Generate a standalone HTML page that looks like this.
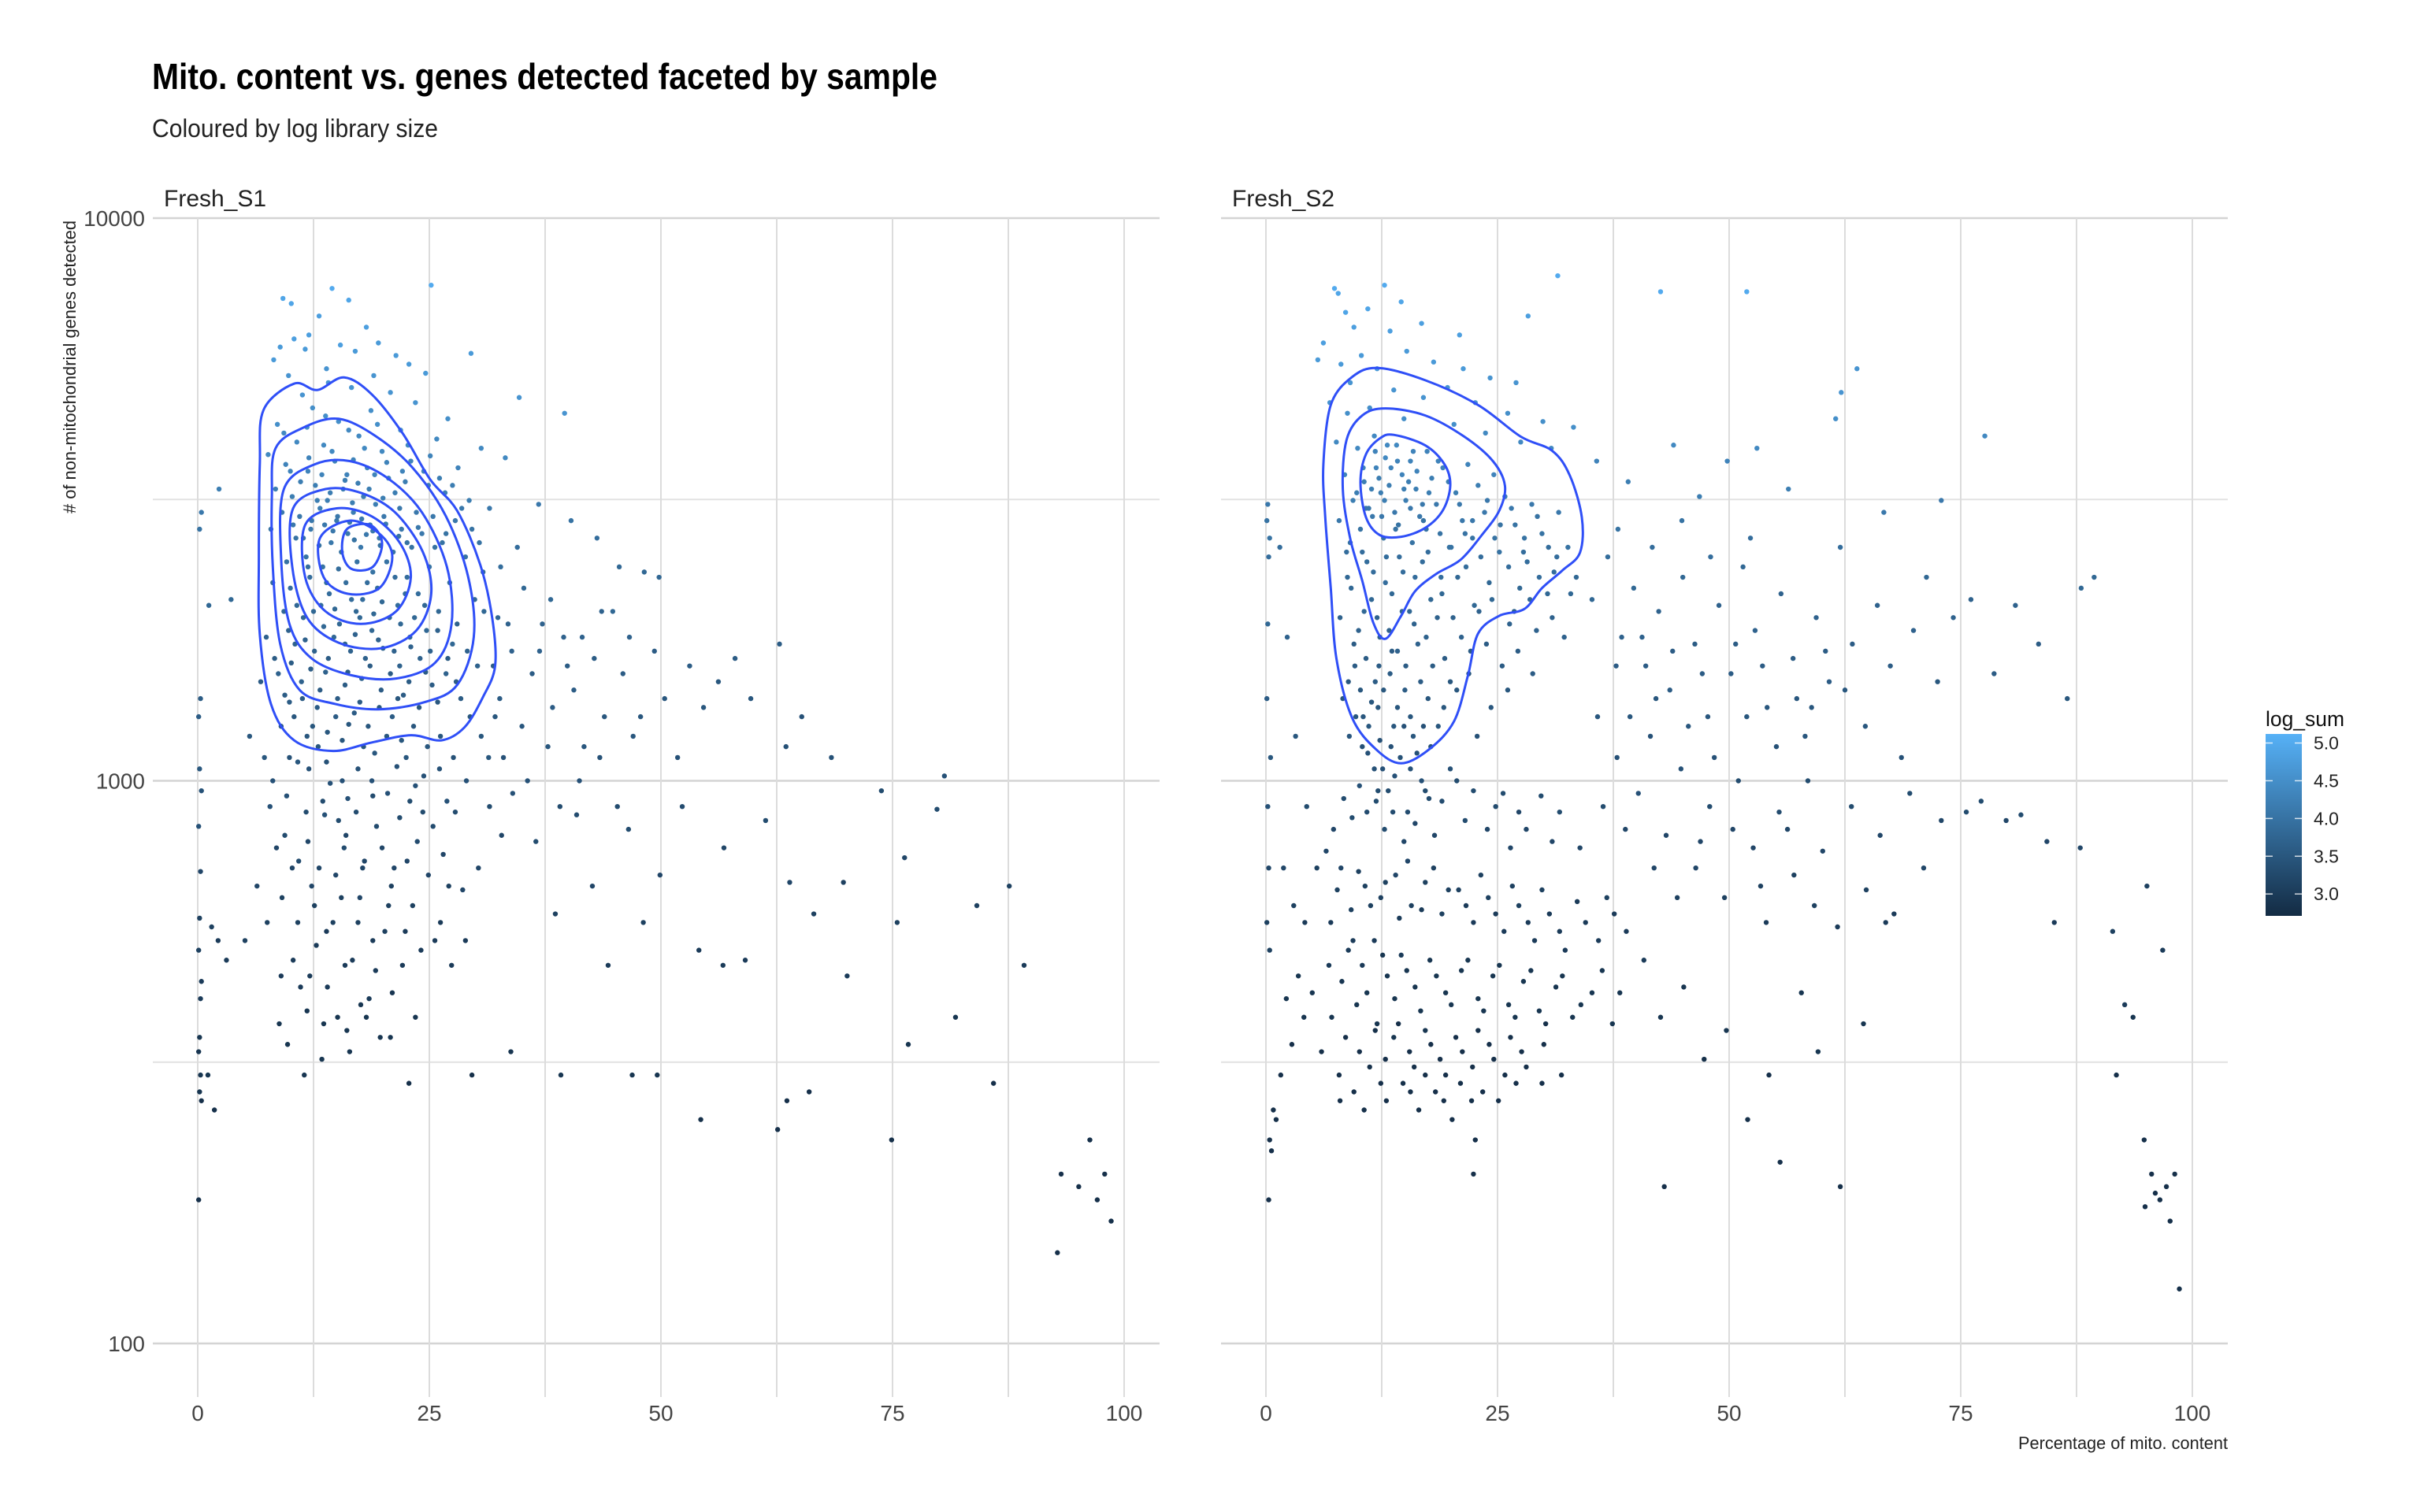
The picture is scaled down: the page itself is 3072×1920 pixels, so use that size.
<!DOCTYPE html>
<html><head><meta charset="utf-8">
<style>
html,body{margin:0;padding:0;background:#fff;}
body{width:3072px;height:1920px;overflow:hidden;font-family:"Liberation Sans",sans-serif;}
svg{display:block;}
</style></head>
<body>
<svg id="chart" width="3072" height="1920" viewBox="0 0 3072 1920" xmlns="http://www.w3.org/2000/svg" font-family="Liberation Sans, sans-serif">
<text x="193" y="113" font-size="46" font-weight="bold" fill="#000" textLength="997" lengthAdjust="spacingAndGlyphs">Mito. content vs. genes detected faceted by sample</text>
<text x="193" y="174" font-size="32" fill="#222" textLength="363" lengthAdjust="spacingAndGlyphs">Coloured by log library size</text>
<text transform="translate(96,280) rotate(-90)" text-anchor="end" font-size="22" fill="#222" textLength="372" lengthAdjust="spacingAndGlyphs"># of non-mitochondrial genes detected</text>
<text x="2828" y="1840" text-anchor="end" font-size="22" fill="#222" textLength="266" lengthAdjust="spacingAndGlyphs">Percentage of mito. content</text>
<g id="panels"></g>
<g id="legend"></g>
</svg>
<script>
// ---- data ----
const xTicks = [0, 25, 50, 75, 100];
const xMinor = [12.5, 37.5, 62.5, 87.5];
const yTicks = [100, 1000, 10000];
const yMinor = [316.2, 3162];
const facets = ["Fresh_S1", "Fresh_S2"];
const legendTicks = [3.0, 3.5, 4.0, 4.5, 5.0];
const colourLimits = [2.71, 5.12];

const pointsS1 = [
[9.2,7200,4.9],[10.1,7050,4.9],[14.5,7500,5.0],[16.3,7150,4.9],[25.2,7600,5.0],[13.1,6700,4.8],[18.2,6400,4.8],[12.0,6200,4.8],[10.4,6100,4.8],[8.9,5900,4.7],
[11.6,5850,4.7],[15.4,5950,4.8],[17.0,5800,4.7],[19.5,6000,4.7],[21.4,5700,4.7],[29.5,5750,4.7],[22.8,5500,4.7],[8.2,5600,4.7],[13.9,5400,4.6],[24.6,5300,4.7],
[19.0,5250,4.6],[34.7,4800,4.6],[39.6,4500,4.6],[14.1,5100,4.6],[9.8,5250,4.6],[16.6,5000,4.6],[20.8,4900,4.6],[11.3,4850,4.6],[23.5,4700,4.6],[27.0,4400,4.5],
[18.7,4550,4.5],[12.4,4600,4.5],[8.6,4300,4.5],[15.2,4350,4.5],[21.9,4200,4.5],[25.8,4050,4.4],[30.6,3900,4.4],[33.2,3750,4.4],[10.7,4000,4.4],[13.6,3950,4.4],
[17.4,4100,4.4],[19.9,3850,4.4],[23.0,3700,4.3],[28.1,3600,4.3],[7.6,3800,4.4],[9.5,3650,4.3],[11.9,3550,4.3],[14.8,3700,4.3],[16.1,3500,4.3],[18.3,3600,4.3],
[20.6,3450,4.3],[22.4,3400,4.2],[24.9,3350,4.2],[26.7,3250,4.2],[29.3,3150,4.2],[31.5,3050,4.1],[8.4,3300,4.2],[10.2,3200,4.2],[12.7,3350,4.2],[14.0,3150,4.2],
[15.7,3300,4.2],[17.9,3200,4.2],[19.2,3100,4.2],[21.3,3250,4.2],[23.6,3000,4.1],[25.4,2950,4.1],[27.8,2900,4.1],[9.1,3000,4.1],[11.0,2950,4.1],[13.2,3050,4.2],
[15.0,2900,4.1],[16.8,3000,4.2],[18.6,2850,4.1],[20.1,2950,4.1],[22.0,2800,4.1],[24.2,2750,4.1],[26.4,2650,4.0],[7.9,2800,4.0],[10.6,2700,4.0],[12.2,2800,4.1],
[14.4,2650,4.1],[16.2,2750,4.1],[17.6,2600,4.1],[19.6,2700,4.1],[21.1,2550,4.0],[23.1,2600,4.0],[28.9,2500,4.0],[30.8,2350,3.9],[9.6,2450,4.0],[11.7,2500,4.0],
[13.5,2400,4.0],[15.5,2550,4.0],[17.2,2450,4.0],[18.9,2350,4.0],[20.4,2450,4.0],[22.6,2300,3.9],[25.0,2400,4.0],[27.2,2250,3.9],[8.1,2250,3.9],[10.0,2200,3.9],
[12.1,2300,3.9],[14.2,2150,3.9],[16.0,2250,3.9],[17.8,2100,3.9],[19.4,2200,3.9],[21.6,2050,3.9],[23.8,2150,3.9],[26.0,2000,3.8],[29.9,2100,3.8],[32.4,1950,3.8],
[9.3,2000,3.8],[11.4,1950,3.8],[13.3,2050,3.9],[15.3,1900,3.8],[17.1,2000,3.8],[18.8,1850,3.8],[20.7,1950,3.8],[22.9,1800,3.8],[24.7,1850,3.8],[27.5,1750,3.8],
[7.4,1800,3.7],[10.5,1750,3.7],[12.6,1700,3.7],[14.7,1800,3.8],[16.5,1700,3.7],[18.1,1650,3.7],[20.0,1720,3.7],[21.8,1600,3.7],[24.0,1650,3.7],[26.8,1550,3.7],
[30.2,1600,3.7],[8.7,1550,3.7],[11.2,1500,3.7],[13.8,1560,3.7],[15.9,1480,3.6],[17.7,1520,3.7],[19.8,1450,3.6],[22.2,1420,3.6],[25.3,1480,3.6],[28.4,1400,3.6],
[6.8,1500,3.6],[9.9,1380,3.6],[12.9,1350,3.6],[14.9,1300,3.6],[16.9,1320,3.6],[18.4,1250,3.5],[21.0,1300,3.6],[23.3,1250,3.5],[26.2,1200,3.5],[9.0,1250,3.5],
[11.8,1200,3.5],[13.0,1150,3.5],[15.6,1180,3.5],[19.1,1120,3.5],[22.5,1100,3.5],[10.8,1080,3.5],[17.3,1050,3.4],[24.4,1020,3.4],[7.2,1100,3.5],[5.6,1200,3.5],
[3.6,2100,3.8],[1.2,2050,3.8],[2.3,3300,4.2],[0.4,3000,4.1],[0.2,2800,4.0],[0.3,1400,3.6],[0.1,1300,3.6],[0.2,1050,3.5],[0.4,960,3.4],[0.1,830,3.4],
[0.3,690,3.2],[0.2,570,3.1],[0.1,500,3.1],[0.4,440,3.0],[0.3,410,3.0],[0.2,350,2.9],[0.1,330,2.9],[0.3,300,2.9],[0.2,280,2.9],[1.1,300,2.9],
[1.8,260,2.8],[0.1,180,2.8],[0.4,270,2.8],[2.2,520,3.0],[3.1,480,3.0],[1.5,550,3.1],
[7.8,900,3.4],[9.4,800,3.3],[10.9,720,3.3],[12.3,650,3.2],[13.7,870,3.4],[14.6,560,3.1],[15.8,760,3.3],[16.7,480,3.0],[17.5,620,3.2],[18.5,410,3.0],
[19.3,830,3.3],[20.2,540,3.1],[21.2,700,3.2],[22.1,470,3.0],[23.2,600,3.1],[24.3,880,3.3],[25.6,520,3.0],[26.5,740,3.2],[27.4,470,3.0],[28.6,640,3.2],
[8.8,370,2.9],[9.7,340,2.9],[11.5,300,2.9],[13.4,320,2.9],[15.1,380,2.9],[16.4,330,2.9],[19.7,350,2.9],[22.8,290,2.8],[29.6,300,2.8],[33.8,330,2.9],
[11.1,430,3.0],[12.8,510,3.0],[14.3,990,3.4],[16.2,930,3.4],[18.0,720,3.2],[20.5,950,3.4],[23.7,780,3.3],[26.9,920,3.4],[6.4,650,3.2],[5.1,520,3.1],
[31.4,1100,3.5],[32.6,1400,3.6],[33.9,1700,3.7],[35.0,1250,3.5],[36.1,1550,3.6],[37.2,1900,3.7],[38.3,1350,3.6],[39.5,1800,3.7],[40.6,1450,3.6],[41.7,1150,3.5],
[42.8,1650,3.6],[43.9,1300,3.5],[44.8,2000,3.8],[45.9,1550,3.6],[47.0,1200,3.5],[48.2,2350,3.8],[49.3,1700,3.6],[50.4,1400,3.5],[51.8,1100,3.4],[53.1,1600,3.6],
[54.6,1350,3.5],[56.2,1500,3.5],[58.0,1650,3.6],[59.7,1400,3.5],[62.8,1750,3.6],[63.5,1150,3.4],[65.2,1300,3.4],[68.4,1100,3.4],[34.5,2600,3.9],[36.8,3100,4.1],
[40.3,2900,4.0],[43.1,2700,3.9],[45.5,2400,3.8],[49.8,2300,3.8],[34.0,950,3.4],[36.5,780,3.3],[38.6,580,3.1],[40.9,870,3.3],[42.6,650,3.2],[44.3,470,3.0],
[46.5,820,3.3],[48.1,560,3.1],[49.9,680,3.2],[52.3,900,3.3],[54.1,500,3.0],[56.8,760,3.2],[59.1,480,3.0],[61.3,850,3.3],[63.9,660,3.2],[66.5,580,3.1],
[69.7,660,3.1],[70.1,450,3.0],[73.8,960,3.3],[75.5,560,3.1],[76.3,730,3.2],[79.8,890,3.3],[80.6,1020,3.4],[84.1,600,3.1],[87.6,650,3.1],[89.2,470,3.0],
[46.9,300,2.9],[49.6,300,2.9],[54.3,250,2.8],[62.6,240,2.8],[63.6,270,2.8],[66.0,280,2.8],[74.9,230,2.8],[76.7,340,2.9],[81.8,380,2.9],[85.9,290,2.8],
[93.2,200,2.8],[96.3,230,2.8],[97.9,200,2.8],[95.1,190,2.8],[97.1,180,2.8],[98.6,165,2.8],[92.8,145,2.8],[56.7,470,3.0],[39.2,300,2.9],[23.5,380,2.9]
];
const coreS1 = [
[12.3,2900,4.1],[13.7,2850,4.1],[15.1,2950,4.1],[16.4,2880,4.1],[17.7,2920,4.1],[18.9,2780,4.1],[20.3,2860,4.1],[21.7,2720,4.0],[14.6,2780,4.1],[16.9,2680,4.0],
[18.2,2740,4.1],[19.7,2620,4.0],[13.1,2620,4.0],[11.4,2700,4.0],[10.3,2850,4.1],[22.6,2650,4.0],[23.8,2820,4.1],[12.9,3150,4.2],[14.3,3250,4.2],[16.7,3120,4.2],
[18.5,3300,4.2],[20.0,3180,4.2],[21.8,3050,4.1],[11.1,3400,4.2],[13.4,3500,4.3],[15.9,3420,4.2],[17.3,3380,4.2],[19.1,3500,4.3],[22.1,3550,4.3],[10.0,3550,4.3],
[12.0,3750,4.3],[14.5,3850,4.4],[16.8,3720,4.3],[18.0,3900,4.4],[20.4,3680,4.3],[24.4,3550,4.3],[26.1,3450,4.2],[9.3,4150,4.4],[11.8,4250,4.5],[13.8,4450,4.5],
[16.3,4200,4.4],[19.4,4300,4.5],[22.7,3950,4.4],[25.1,3780,4.3],[27.5,3350,4.2],[28.5,3050,4.1],[29.6,2800,4.0],[30.4,2650,4.0],[26.8,2750,4.0],[25.6,2600,4.0],
[11.9,2400,3.9],[13.9,2250,3.9],[15.2,2380,3.9],[16.6,2100,3.9],[18.3,2250,3.9],[19.9,2080,3.8],[21.3,2300,3.9],[22.4,2150,3.9],[24.5,2050,3.8],[10.7,2050,3.8],
[12.5,2000,3.8],[14.8,2020,3.8],[17.5,1950,3.8],[19.0,1980,3.8],[21.9,1900,3.8],[23.4,1950,3.8],[25.9,1850,3.7],[28.0,1900,3.7],[9.8,1850,3.7],[11.6,1780,3.7],
[13.6,1880,3.8],[15.9,1750,3.7],[17.0,1820,3.7],[19.5,1780,3.7],[21.2,1700,3.7],[23.0,1730,3.7],[25.1,1700,3.7],[27.0,1650,3.6],[29.1,1700,3.7],[8.3,1650,3.6],
[10.1,1620,3.6],[12.2,1580,3.6],[14.1,1650,3.6],[16.2,1560,3.6],[18.6,1600,3.6],[20.8,1550,3.6],[22.8,1500,3.6],[24.6,1560,3.6],[27.9,1500,3.6],[9.4,1420,3.6],
[11.3,1400,3.6],[13.2,1450,3.6],[15.1,1400,3.6],[17.5,1380,3.6],[19.6,1350,3.5],[21.6,1400,3.5],[23.9,1350,3.5],[25.9,1380,3.5],[29.4,1300,3.5],[10.4,1300,3.5],
[12.4,1250,3.5],[14.0,1220,3.5],[16.3,1260,3.5],[17.9,1150,3.5],[20.4,1200,3.5],[22.0,1180,3.5],[24.8,1150,3.5],[27.6,1100,3.4],[8.1,1000,3.4],[9.9,1100,3.4],
[12.0,1050,3.4],[13.9,1080,3.4],[15.6,1000,3.4],[18.8,1000,3.4],[21.5,1060,3.4],[23.5,980,3.4],[26.1,1050,3.4],[29.0,1000,3.4],[30.6,1200,3.5],[32.1,1300,3.5],
[9.6,940,3.4],[11.7,880,3.3],[13.5,920,3.3],[15.2,850,3.3],[17.1,880,3.3],[18.9,940,3.3],[21.8,860,3.3],[22.9,920,3.3],[25.4,830,3.3],[27.8,880,3.3],
[8.5,760,3.2],[10.2,700,3.2],[11.9,780,3.2],[13.1,700,3.2],[14.9,680,3.2],[16.0,800,3.2],[17.8,700,3.2],[19.9,760,3.2],[20.9,650,3.1],[22.6,720,3.2],
[24.9,680,3.2],[27.1,650,3.1],[30.3,700,3.2],[32.8,800,3.2],[9.1,620,3.1],[10.8,560,3.1],[12.6,600,3.1],[13.9,540,3.0],[15.5,620,3.1],[17.3,560,3.1],
[18.9,520,3.0],[20.6,600,3.1],[22.4,540,3.0],[24.1,500,3.0],[26.2,560,3.0],[28.9,520,3.0],[10.3,480,3.0],[12.1,450,3.0],[14.0,430,3.0],[15.9,470,3.0],
[17.6,400,2.9],[19.2,460,3.0],[21.0,420,2.9],[11.8,390,2.9],[13.6,370,2.9],[16.1,360,2.9],[18.2,380,2.9],[20.8,350,2.9],[9.0,450,3.0],[7.5,560,3.1],
[31.5,900,3.3],[33.0,1100,3.4],[35.6,1000,3.4],[37.8,1150,3.5],[39.1,900,3.3],[41.2,1000,3.4],[43.4,1100,3.4],[45.3,900,3.3],[47.8,1300,3.5],[31.9,1600,3.6],
[33.5,1900,3.7],[35.2,2200,3.8],[36.9,1700,3.7],[38.1,2100,3.8],[39.9,1600,3.6],[41.5,1800,3.7],[43.6,2000,3.7],[46.6,1800,3.7],[30.9,2000,3.8],[32.7,2400,3.9]
];

const pointsS2 = [
[7.4,7500,5.0],[7.8,7350,4.9],[12.8,7600,5.0],[14.6,7100,4.9],[8.6,6800,4.9],[11.0,6900,4.9],[9.5,6400,4.8],[6.2,6000,4.8],[13.4,6300,4.8],[16.8,6500,4.8],
[20.9,6200,4.8],[28.3,6700,4.8],[31.5,7900,5.0],[42.6,7400,5.0],[51.9,7400,5.0],[5.6,5600,4.7],[8.1,5500,4.7],[10.3,5700,4.7],[12.0,5400,4.7],[15.2,5800,4.7],
[18.1,5550,4.7],[21.3,5400,4.7],[24.2,5200,4.6],[27.0,5100,4.6],[9.1,5100,4.6],[13.8,4950,4.6],[17.0,4800,4.6],[19.6,5000,4.6],[22.6,4700,4.6],[26.1,4500,4.5],
[29.9,4350,4.5],[33.2,4250,4.5],[6.9,4700,4.6],[8.8,4500,4.5],[11.2,4600,4.5],[14.9,4400,4.5],[20.3,4300,4.5],[23.7,4150,4.4],[27.5,4000,4.4],[30.8,3900,4.4],
[35.7,3700,4.3],[62.1,4900,4.6],[61.5,4400,4.5],[63.8,5400,4.6],[77.6,4100,4.4],[53.0,3900,4.4],[44.0,3950,4.4],[49.8,3700,4.3],
[7.6,4000,4.4],[9.9,3900,4.4],[11.7,4100,4.4],[12.9,3750,4.4],[14.1,3950,4.4],[15.6,3700,4.3],[17.4,3850,4.3],[19.1,3600,4.3],[21.8,3650,4.3],[24.6,3500,4.3],
[8.5,3500,4.3],[10.6,3400,4.2],[11.9,3600,4.3],[13.3,3350,4.2],[14.7,3500,4.3],[16.2,3300,4.2],[17.9,3450,4.2],[20.5,3250,4.2],[22.9,3350,4.2],[25.8,3200,4.2],
[28.7,3100,4.1],[31.6,3000,4.1],[9.4,3150,4.2],[11.1,3050,4.1],[12.4,3250,4.2],[13.9,3000,4.1],[15.1,3150,4.2],[16.6,2950,4.1],[18.4,3100,4.1],[21.2,2900,4.1],
[23.6,3000,4.1],[26.9,2850,4.0],[29.8,2750,4.0],[32.6,2600,4.0],[7.9,2900,4.1],[10.2,2800,4.0],[11.5,2950,4.1],[12.7,2700,4.0],[14.3,2850,4.0],[15.8,2650,4.0],
[17.3,2800,4.0],[19.8,2600,4.0],[22.3,2700,4.0],[25.2,2550,4.0],[28.2,2450,3.9],[31.1,2350,3.9],[8.7,2550,3.9],[10.9,2450,3.9],[13.0,2500,3.9],[14.8,2350,3.9],
[16.9,2450,3.9],[18.9,2300,3.9],[21.6,2400,3.9],[24.1,2250,3.8],[27.4,2200,3.8],[30.4,2150,3.8],[33.5,2300,3.8],[9.2,2200,3.8],[11.4,2100,3.8],[13.6,2150,3.8],
[15.5,2000,3.8],[17.8,2100,3.8],[20.2,1950,3.7],[23.0,2000,3.7],[26.3,1900,3.7],[29.2,1850,3.7],[8.0,1950,3.7],[10.0,1850,3.7],[12.3,1800,3.7],[14.2,1700,3.7],
[16.4,1750,3.7],[19.3,1650,3.6],[22.1,1700,3.6],[25.5,1600,3.6],[28.8,1550,3.6],[9.6,1600,3.6],[11.8,1500,3.6],[13.4,1550,3.6],[15.0,1450,3.6],[17.5,1400,3.5],
[20.6,1450,3.5],[24.3,1350,3.5],[8.3,1400,3.5],[10.5,1300,3.5],[12.1,1350,3.5],[13.8,1250,3.5],[15.9,1200,3.5],[18.6,1250,3.5],[22.8,1200,3.4],[9.0,1200,3.5],
[11.0,1120,3.4],[12.6,1050,3.4],[14.5,1100,3.4],[16.8,1000,3.4],[19.9,1050,3.4],[10.1,980,3.4],[11.9,920,3.3],[13.2,960,3.3],[15.3,880,3.3],[17.6,930,3.3],
[9.3,860,3.3],[12.8,820,3.3],[14.9,780,3.2],[18.2,800,3.2],[21.5,850,3.3],[24.8,900,3.3],[26.4,760,3.2],[28.1,820,3.2],[31.7,880,3.3],[33.9,760,3.2],
[6.5,750,3.2],[8.1,700,3.2],[10.7,650,3.1],[12.4,620,3.1],[14.0,680,3.2],[15.7,600,3.1],[17.2,660,3.1],[19.0,580,3.1],[20.8,640,3.1],[22.4,560,3.0],
[24.0,620,3.1],[25.7,540,3.0],[27.3,600,3.1],[29.0,520,3.0],[30.6,580,3.0],[32.3,500,3.0],[34.5,560,3.0],[36.8,620,3.1],[38.9,540,3.0],[7.0,560,3.0],
[8.9,500,3.0],[10.4,470,3.0],[11.7,520,3.0],[13.1,450,2.9],[14.6,490,3.0],[16.1,430,2.9],[17.7,480,2.9],[19.4,420,2.9],[21.1,460,2.9],[22.9,410,2.9],
[24.5,450,2.9],[26.2,400,2.9],[27.8,440,2.9],[29.5,390,2.9],[31.3,430,2.9],[33.1,380,2.9],[35.2,420,2.9],[37.4,370,2.9],[9.8,400,2.9],[12.0,370,2.9],
[13.8,350,2.9],[15.5,330,2.8],[17.2,360,2.9],[18.8,320,2.8],[20.5,350,2.8],[22.3,310,2.8],[24.1,340,2.8],[25.8,300,2.8],[27.6,330,2.8],[29.8,290,2.8],
[6.0,330,2.8],[7.9,300,2.8],[9.5,280,2.8],[11.2,310,2.8],[13.0,270,2.8],[14.8,290,2.8],[16.5,260,2.8],[18.3,280,2.8],[20.1,250,2.8],[22.2,270,2.8],
[4.1,380,2.9],[2.8,340,2.8],[3.5,450,2.9],[1.6,300,2.8],[0.8,260,2.8],[0.4,230,2.8],[0.6,220,2.8],[0.3,180,2.8],[1.1,250,2.8],[2.2,410,2.9],
[0.2,3100,4.1],[0.1,2900,4.0],[0.4,2700,4.0],[0.3,2500,3.9],[0.2,1900,3.8],[0.1,1400,3.6],[0.5,1100,3.5],[0.2,900,3.4],[0.3,700,3.2],[0.1,560,3.1],
[0.4,500,3.1],[1.5,2600,3.9],[2.3,1800,3.7],[3.2,1200,3.5],[1.9,700,3.2],[4.4,900,3.3],[22.6,230,2.8],[22.4,200,2.8],[43.0,190,2.8],[55.5,210,2.8],
[35.2,2100,3.8],[36.9,2500,3.9],[38.4,1800,3.7],[39.7,2200,3.8],[41.0,1600,3.6],[42.4,2000,3.7],[43.6,1450,3.6],[45.0,2300,3.8],[46.3,1750,3.6],[47.7,1300,3.5],
[48.9,2050,3.7],[50.2,1550,3.6],[51.5,2400,3.8],[52.8,1850,3.7],[54.1,1350,3.5],[55.6,2150,3.7],[56.9,1650,3.6],[58.2,1200,3.5],[59.4,1950,3.7],[60.8,1500,3.6],
[62.0,2600,3.9],[63.3,1750,3.6],[64.7,1250,3.5],[66.0,2050,3.7],[67.4,1600,3.6],[68.6,1100,3.4],[69.9,1850,3.7],[71.3,2300,3.8],[72.5,1500,3.5],[74.2,1950,3.7],
[76.1,2100,3.7],[78.6,1550,3.6],[80.9,2050,3.7],[83.4,1750,3.6],[88.0,2200,3.8],[89.4,2300,3.8],[86.5,1400,3.5],[35.8,1300,3.5],[37.9,1100,3.4],[40.2,950,3.4],
[41.5,1200,3.4],[43.2,800,3.2],[44.8,1050,3.4],[46.4,700,3.2],[47.9,900,3.3],[49.5,620,3.1],[51.0,1000,3.3],[52.6,760,3.2],[54.0,560,3.0],[55.4,880,3.3],
[57.0,680,3.1],[58.5,1000,3.3],[60.1,750,3.2],[61.7,550,3.0],[63.2,900,3.3],[64.8,640,3.1],[66.3,800,3.2],[67.8,580,3.0],[69.5,950,3.3],[71.0,700,3.2],
[72.9,850,3.2],[75.6,880,3.3],[77.2,920,3.3],[79.9,850,3.2],[81.5,870,3.3],[84.3,780,3.2],[85.1,560,3.0],[87.9,760,3.2],[40.8,480,3.0],[42.6,380,2.9],
[45.1,430,2.9],[47.3,320,2.8],[49.7,360,2.9],[52.0,250,2.8],[54.3,300,2.8],[57.8,420,2.9],[59.6,330,2.9],[62.0,190,2.8],[64.5,370,2.9],[66.9,560,3.0],
[91.4,540,3.1],[92.7,400,3.0],[93.6,380,2.9],[91.8,300,2.8],[95.1,650,3.1],[96.8,500,3.0],[94.8,230,2.8],[95.6,200,2.8],[96.0,185,2.8],[96.5,180,2.8],
[97.2,190,2.8],[98.1,200,2.8],[94.9,175,2.8],[97.6,165,2.8],[98.6,125,2.8],[39.1,3400,4.2],[46.8,3200,4.2],[56.4,3300,4.2],[66.7,3000,4.1],[72.9,3150,4.1]
];
const coreS2 = [
[12.2,3450,4.2],[13.5,3600,4.3],[14.9,3300,4.2],[16.3,3550,4.3],[17.6,3250,4.2],[11.4,3300,4.2],[12.8,3150,4.2],[14.2,3700,4.3],[15.4,3400,4.2],[16.9,3100,4.1],
[10.5,3600,4.3],[11.8,3850,4.3],[13.1,3950,4.4],[15.9,3850,4.3],[18.6,3700,4.3],[19.7,3400,4.2],[20.9,3100,4.1],[22.3,2900,4.1],[23.9,3150,4.1],[25.3,2850,4.0],
[26.5,3050,4.1],[27.9,2700,4.0],[29.3,2950,4.0],[30.5,2600,3.9],[12.5,2950,4.1],[14.0,2800,4.0],[15.6,3050,4.1],[17.0,2900,4.0],[18.8,2750,4.0],[20.0,2600,4.0],
[21.5,2750,4.0],[23.2,2500,3.9],[24.7,2700,4.0],[26.2,2400,3.9],[27.8,2550,3.9],[29.5,2300,3.9],[31.4,2500,3.9],[32.9,2150,3.8],[9.8,3250,4.2],[10.8,3050,4.1],
[9.1,2650,4.0],[10.4,2550,3.9],[11.6,2350,3.9],[12.9,2250,3.9],[14.4,2500,3.9],[16.1,2300,3.9],[17.5,2550,3.9],[19.0,2150,3.8],[20.7,2300,3.8],[22.5,2050,3.8],
[24.4,2100,3.8],[26.8,2000,3.7],[28.5,2100,3.8],[30.9,1950,3.7],[32.2,1800,3.7],[8.8,2300,3.8],[10.6,2000,3.8],[12.0,1950,3.7],[13.3,1850,3.7],[14.7,2000,3.8],
[16.0,1900,3.7],[17.3,1800,3.7],[18.5,1950,3.7],[21.1,1800,3.7],[23.8,1750,3.6],[27.2,1700,3.6],[9.5,1750,3.6],[10.8,1650,3.6],[12.2,1600,3.6],[13.6,1700,3.6],
[15.1,1600,3.6],[16.7,1500,3.6],[18.0,1600,3.6],[19.9,1500,3.5],[21.9,1550,3.5],[26.1,1450,3.5],[8.9,1500,3.5],[10.2,1450,3.5],[11.4,1380,3.5],[12.7,1450,3.5],
[14.2,1350,3.5],[15.6,1300,3.5],[17.0,1250,3.4],[19.2,1350,3.5],[9.7,1300,3.5],[11.1,1250,3.5],[12.3,1180,3.4],[13.5,1150,3.4],[14.9,1250,3.4],[16.3,1120,3.4],
[17.8,1150,3.4],[10.4,1150,3.4],[11.7,1050,3.4],[13.9,1020,3.4],[15.6,1050,3.4],[17.2,960,3.3],[19.0,920,3.3],[20.6,1000,3.3],[10.9,880,3.3],[12.1,960,3.3],
[13.7,880,3.3],[16.1,840,3.2],[8.4,930,3.3],[7.3,820,3.2],[22.4,960,3.3],[23.9,820,3.2],[25.6,950,3.3],[27.3,880,3.2],[29.7,940,3.3],[30.9,780,3.2],
[7.7,640,3.1],[9.2,590,3.1],[10.0,690,3.1],[11.3,600,3.1],[12.9,660,3.1],[14.4,570,3.0],[15.3,720,3.2],[16.8,590,3.0],[18.1,700,3.1],[19.7,640,3.1],
[21.6,600,3.0],[23.2,680,3.1],[24.8,580,3.0],[26.6,650,3.1],[28.3,560,3.0],[29.8,640,3.1],[31.7,540,3.0],[33.6,610,3.0],[35.9,520,3.0],[37.6,580,3.0],
[6.8,470,3.0],[8.2,440,2.9],[9.4,520,3.0],[10.9,420,2.9],[12.6,490,2.9],[13.9,410,2.9],[15.2,460,2.9],[16.7,390,2.9],[18.4,450,2.9],[20.0,400,2.9],
[21.8,480,2.9],[23.5,390,2.9],[25.2,470,2.9],[26.9,380,2.9],[28.6,460,2.9],[30.2,370,2.8],[32.0,450,2.9],[34.0,400,2.9],[36.3,460,2.9],[38.2,420,2.9],
[7.1,380,2.9],[8.6,350,2.8],[10.1,330,2.8],[11.8,360,2.8],[12.9,320,2.8],[14.3,370,2.8],[16.0,310,2.8],[17.8,340,2.8],[19.4,300,2.8],[21.2,330,2.8],
[22.9,360,2.8],[24.6,320,2.8],[26.4,350,2.8],[28.1,310,2.8],[30.0,340,2.8],[31.9,300,2.8],[8.0,270,2.8],[10.6,260,2.8],[12.4,290,2.8],[15.6,280,2.8],
[17.2,300,2.8],[19.2,270,2.8],[21.0,290,2.8],[23.4,280,2.8],[25.1,270,2.8],[27.0,290,2.8],[5.0,420,2.9],[4.2,560,3.0],[5.5,700,3.1],[3.0,600,3.1],
[37.8,1600,3.6],[40.6,1800,3.7],[43.9,1700,3.6],[47.1,1550,3.6],[50.7,1750,3.6],[53.6,1600,3.6],[57.3,1400,3.5],[60.4,1700,3.6],[39.3,1300,3.5],[42.1,1400,3.5],
[45.6,1250,3.5],[48.4,1100,3.4],[51.9,1300,3.5],[55.1,1150,3.4],[58.9,1350,3.5],[62.5,1450,3.5],[36.4,900,3.3],[38.8,820,3.2],[41.9,700,3.2],[44.4,620,3.1],
[46.9,780,3.2],[50.4,820,3.2],[53.4,650,3.1],[56.3,820,3.2],[59.2,600,3.1],[38.0,2800,4.0],[41.7,2600,3.9],[44.9,2900,4.0],[48.0,2500,3.9],[52.3,2700,3.9]
];

const contoursS1 = [
[[7.1,4560],[10.4,5080],[12.9,4950],[15.8,5210],[18.8,4860],[22.1,4150],[25.1,3430],[28.0,3020],[30.5,2420],[31.8,1940],[32.1,1600],[30.8,1410],[28.8,1245],[26.3,1180],[23.0,1205],[18.8,1170],[14.6,1130],[10.4,1180],[7.9,1370],[6.7,1820],[6.6,2500],[6.7,3650]],
[[8.4,3900],[11.5,4250],[15.2,4400],[19.2,4100],[23.2,3600],[26.8,2950],[29.2,2300],[29.8,1800],[28.0,1480],[24.5,1380],[19.5,1340],[14.8,1370],[11.0,1450],[8.9,1750],[8.1,2400],[8.0,3200]],
[[9.3,3300],[12.6,3650],[16.4,3700],[20.5,3450],[24.2,3000],[26.9,2400],[27.4,1900],[25.6,1620],[21.4,1520],[16.6,1540],[12.3,1650],[9.9,1900],[9.0,2500]],
[[10.3,3050],[13.8,3300],[17.6,3250],[21.3,3000],[24.3,2550],[25.2,2150],[23.6,1850],[19.8,1720],[15.2,1760],[11.8,1950],[10.2,2400]],
[[11.6,2850],[15.0,3050],[18.8,2950],[21.8,2650],[23.0,2300],[21.4,2000],[17.6,1900],[13.8,2000],[11.6,2300]],
[[13.2,2700],[16.4,2900],[19.6,2750],[21.0,2500],[19.6,2200],[16.2,2150],[13.6,2300]],
[[16.1,2800],[18.6,2850],[19.9,2650],[18.9,2400],[16.6,2380],[15.6,2550]]
];
const contoursS2 = [
[[12.1,5415],[17.2,5150],[22.9,4655],[27.5,4090],[30.9,3860],[32.8,3490],[34.1,2940],[33.9,2545],[32.0,2365],[29.8,2200],[27.9,2020],[25.2,1965],[22.9,1827],[21.8,1538],[20.3,1275],[17.6,1137],[14.6,1074],[11.9,1137],[9.3,1294],[7.6,1652],[7.0,2200],[6.4,2940],[6.2,3645],[7.0,4655],[9.3,5220]],
[[12.9,4590],[17.2,4460],[21.4,4090],[24.5,3700],[25.8,3345],[25.2,3025],[23.3,2733],[21.0,2470],[18.4,2333],[16.1,2172],[14.6,1965],[12.9,1788],[11.6,1908],[10.4,2267],[9.1,2695],[8.3,3297],[8.7,4033],[10.4,4460]],
[[13.8,4120],[17.2,3945],[19.3,3645],[19.9,3345],[19.1,3025],[17.2,2815],[14.6,2715],[12.3,2733],[10.8,2940],[10.2,3392],[10.8,3806],[12.3,4060]]
];

// ---- layout ----
const panelLeft = [194, 1550];
const panelWidth = 1278;
const zeroOffset = 57;
const pxPerUnit = 11.76;
const yTop = 277, pxPerDecade = 714.5, panelBottom = 1774;
const NS = "http://www.w3.org/2000/svg";
const root = document.getElementById("panels");

function sx(p, v){ return panelLeft[p] + zeroOffset + v * pxPerUnit; }
function sy(g){ return yTop + (4 - Math.log10(g)) * pxPerDecade; }
function colour(v){
  const t = Math.max(0, Math.min(1, (v - colourLimits[0]) / (colourLimits[1] - colourLimits[0])));
  const a = [0x13,0x2B,0x43], b = [0x56,0xB1,0xF7];
  return "rgb(" + a.map((c,i)=>Math.round(c + (b[i]-c)*t)).join(",") + ")";
}
function el(tag, attrs, parent){
  const e = document.createElementNS(NS, tag);
  for (const k in attrs) e.setAttribute(k, attrs[k]);
  parent.appendChild(e);
  return e;
}
function smoothClosed(pts){
  const n = pts.length;
  let d = "M" + pts[0][0] + "," + pts[0][1];
  for (let i = 0; i < n; i++){
    const p0 = pts[(i-1+n)%n], p1 = pts[i], p2 = pts[(i+1)%n], p3 = pts[(i+2)%n];
    const c1 = [p1[0] + (p2[0]-p0[0])/6, p1[1] + (p2[1]-p0[1])/6];
    const c2 = [p2[0] - (p3[0]-p1[0])/6, p2[1] - (p3[1]-p1[1])/6];
    d += "C" + c1.join(",") + " " + c2.join(",") + " " + p2.join(",");
  }
  return d + "Z";
}

const allPoints = [pointsS1.concat(coreS1), pointsS2.concat(coreS2)];
const allContours = [contoursS1, contoursS2];

facets.forEach((name, p) => {
  const g = el("g", {}, root);
  
  
  const L = panelLeft[p], R = L + panelWidth;
  yMinor.concat(yTicks).forEach(v => {
    const y = sy(v);
    const ln = el("line", {x1:L, x2:R, y1:y, y2:y, stroke: yTicks.includes(v) ? "#d4d4d4" : "#e2e2e2", "stroke-width": yTicks.includes(v) ? 2.5 : 2}, g);
    
    
  });
  xMinor.concat(xTicks).forEach(v => {
    const x = sx(p, v);
    const ln = el("line", {x1:x, x2:x, y1:yTop, y2:panelBottom, stroke:"#dcdcdc", "stroke-width":2}, g);
    
    
  });
  xTicks.forEach(v => {
    const t = el("text", {x:sx(p,v), y:1804, "text-anchor":"middle", "font-size":28, fill:"#444"}, g);
    t.textContent = v;
    
    
  });
  if (p === 0){
    yTicks.forEach(v => {
      const t = el("text", {x:184, y:sy(v)+10, "text-anchor":"end", "font-size":28, fill:"#444"}, g);
      t.textContent = v;
      
      
    });
  }
  const st = el("text", {x:L+14, y:262, "font-size":30, fill:"#222"}, g);
  st.textContent = name;
  
  
  allPoints[p].forEach(d => {
    const c = el("circle", {cx:sx(p,d[0]), cy:sy(d[1]), r:3.2, fill:colour(d[2])}, g);
    
    
  });
  allContours[p].forEach(ring => {
    const pts = ring.map(q => [Number(sx(p,q[0]).toFixed(1)), Number(sy(q[1]).toFixed(1))]);
    const path = el("path", {d:smoothClosed(pts), fill:"none", stroke:"#2f4ff7", "stroke-width":3}, g);
    
    
  });
});

// legend
const lg = document.getElementById("legend");
const defs = el("defs", {}, lg);
const grad = el("linearGradient", {id:"lgGrad", x1:0, y1:1, x2:0, y2:0}, defs);
el("stop", {offset:"0", "stop-color":colour(colourLimits[0])}, grad);
el("stop", {offset:"1", "stop-color":colour(colourLimits[1])}, grad);
const barTop = 932, barBottom = 1163, barX = 2876, barW = 46;
function ly(v){ return barBottom - (v - colourLimits[0]) / (colourLimits[1]-colourLimits[0]) * (barBottom - barTop); }
const lt = el("text", {x:2876, y:922, "font-size":27, fill:"#111", textLength:100, lengthAdjust:"spacingAndGlyphs"}, lg);
lt.textContent = "log_sum";


const bar = el("rect", {x:barX, y:barTop, width:barW, height:barBottom-barTop, fill:"url(#lgGrad)"}, lg);


legendTicks.forEach(v => {
  const y = ly(v);
  el("line", {x1:barX, x2:barX+9, y1:y, y2:y, stroke:"#fff", "stroke-width":1.5, opacity:0.8}, lg);
  el("line", {x1:barX+barW-9, x2:barX+barW, y1:y, y2:y, stroke:"#fff", "stroke-width":1.5, opacity:0.8}, lg);
  const t = el("text", {x:2937, y:y+8, "font-size":23, fill:"#222"}, lg);
  t.textContent = v.toFixed(1);
  
  
});
</script>
</body></html>
